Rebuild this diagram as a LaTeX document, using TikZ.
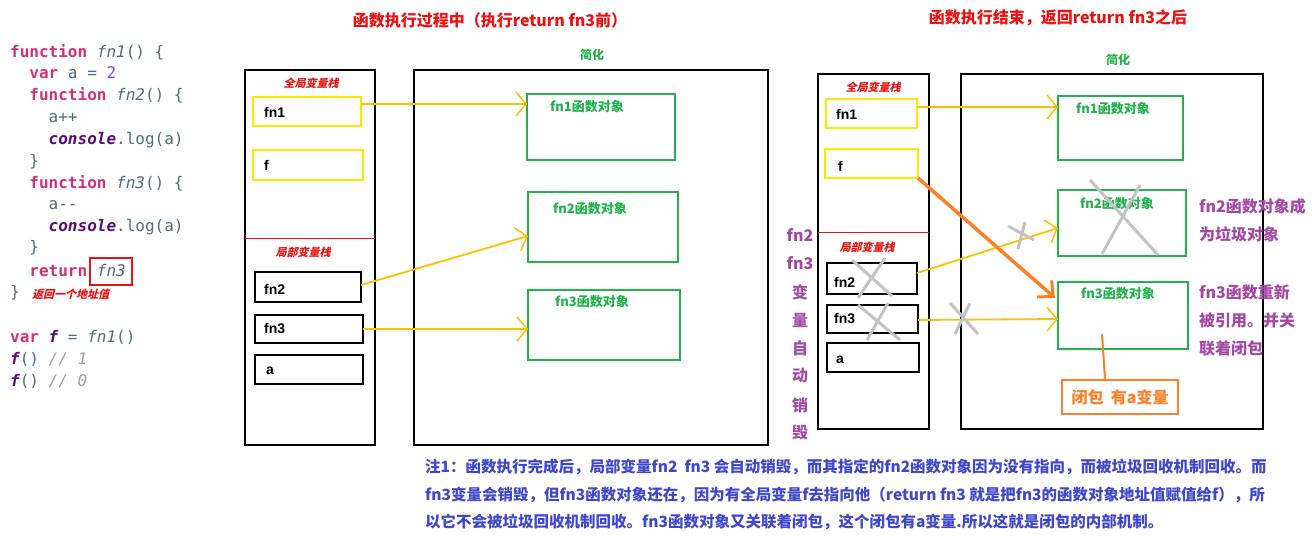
\documentclass[tikz,border=0pt]{standalone}
\usepackage{fontspec}
\setmainfont{Liberation Sans}
\newfontfamily\cjk{Noto Sans CJK SC}
\newfontfamily\cjksl[FakeSlant=0.25]{Noto Sans CJK SC}
\newfontfamily\code{DejaVu Sans Mono}
\usetikzlibrary{arrows.meta}
\definecolor{kw}{HTML}{D0307A}
\definecolor{fnc}{HTML}{4E6E7E}
\definecolor{con}{HTML}{5A0A7A}
\definecolor{num}{HTML}{7A50C8}
\definecolor{cmt}{HTML}{A0A0A0}
\definecolor{ttl}{HTML}{EE1111}
\definecolor{grn}{HTML}{22B14C}
\definecolor{yel}{HTML}{FFE800}
\definecolor{arr}{HTML}{FFC000}
\definecolor{org}{HTML}{FF7F27}
\definecolor{pur}{HTML}{A349A4}
\definecolor{blu}{HTML}{3F48CC}
\definecolor{gry}{HTML}{C3C3C3}
\tikzset{
 cl/.style={anchor=west,inner sep=0,font=\code\fontsize{16}{18}\selectfont},
 stk/.style={draw=black,line width=2.5pt},
 ybox/.style={draw=yel,line width=2.5pt},
 bbox/.style={draw=black,line width=2.5pt},
 gbox/.style={draw=grn,line width=2.5pt},
 lbl/.style={anchor=west,inner sep=0,font=\bfseries\fontsize{14}{16}\selectfont},
 olbl/.style={anchor=north west,inner sep=0,text=grn,font=\cjk\bfseries\fontsize{13}{15}\selectfont},
 rit/.style={text=ttl,inner sep=0,font=\cjksl\bfseries\fontsize{11}{13}\selectfont},
 ttlt/.style={text=ttl,inner sep=0,font=\cjk\bfseries\fontsize{16}{18}\selectfont},
 ya/.style={draw=arr,line width=1.8pt,-{Straight Barb[length=10pt,width=24pt,line width=1.5pt]}},
 gx/.style={draw=gry,line width=3pt},
 purt/.style={text=pur,inner sep=0,font=\cjk\bfseries\fontsize{16}{18}\selectfont},
 note/.style={anchor=west,inner sep=0,text=blu,font=\cjk\bfseries\fontsize{15.5}{17}\selectfont}
}
\begin{document}
\begin{tikzpicture}[x=1pt,y=-1pt]
\useasboundingbox (0,0) rectangle (1312,540);
% code
\node[cl] (c1) at (10,52) {\textcolor{kw}{\bfseries function} \textcolor{fnc}{\itshape fn1}\textcolor{fnc}{() \{}};
\node[cl] (c2) at (10,73) {\phantom{xx}\textcolor{kw}{\bfseries var} \textcolor{fnc}{a = }\textcolor{num}{2}};
\node[cl] (c3) at (10,95) {\phantom{xx}\textcolor{kw}{\bfseries function} \textcolor{fnc}{\itshape fn2}\textcolor{fnc}{() \{}};
\node[cl] (c4) at (10,118) {\phantom{xxxx}\textcolor{fnc}{a++}};
\node[cl] (c5) at (10,140) {\phantom{xxxx}\textcolor{con}{\bfseries\itshape console}\textcolor{fnc}{.log(a)}};
\node[cl] (c6) at (10,162) {\phantom{xx}\textcolor{fnc}{\}}};
\node[cl] (c7) at (10,183) {\phantom{xx}\textcolor{kw}{\bfseries function} \textcolor{fnc}{\itshape fn3}\textcolor{fnc}{() \{}};
\node[cl] (c8) at (10,205) {\phantom{xxxx}\textcolor{fnc}{a-{}-}};
\node[cl] (c9) at (10,227) {\phantom{xxxx}\textcolor{con}{\bfseries\itshape console}\textcolor{fnc}{.log(a)}};
\node[cl] (c10) at (10,248) {\phantom{xx}\textcolor{fnc}{\}}};
\node[cl] (c11) at (10,271) {\phantom{xx}\textcolor{kw}{\bfseries return} \textcolor{fnc}{\itshape fn3}};
\node[cl] (c12) at (10,293) {\textcolor{fnc}{\}}};
\node[rit,anchor=west] (ret) at (32,294) {返回一个地址值};
\draw[draw=ttl,line width=2pt] (90,258) rectangle (132,285);
\node[cl] (c13) at (10,337) {\textcolor{kw}{\bfseries var} \textcolor{con}{\bfseries\itshape f}\textcolor{fnc}{\ =\ }\textcolor{fnc}{\itshape fn1}\textcolor{fnc}{()}};
\node[cl] (c14) at (10,359) {\textcolor{con}{\bfseries\itshape f}\textcolor{fnc}{()} \textcolor{cmt}{\itshape // 1}};
\node[cl] (c15) at (10,381) {\textcolor{con}{\bfseries\itshape f}\textcolor{fnc}{()} \textcolor{cmt}{\itshape // 0}};
% titles
\node[ttlt] (t1) at (490,20) {函数执行过程中（执行return fn3前）};
\node[ttlt] (t2) at (1058,18) {函数执行结束，返回return fn3之后};
% ---------- left diagram
\draw[stk] (245,70) rectangle (375,445);
\draw[stk] (414,70) rectangle (768,445);
\node[text=grn,inner sep=0,font=\cjk\bfseries\fontsize{12}{14}\selectfont] (s1) at (592,55) {简化};
\node[rit] (g1) at (311,83) {全局变量栈};
\draw[ybox] (253,97) rectangle (361,126); \node[lbl] (n1) at (264,112) {fn1};
\draw[ybox] (253,150) rectangle (363,180); \node[lbl] (nf) at (264,165) {f};
\draw[ttl,line width=1pt] (245,239) -- (375,239);
\node[rit] (l1) at (303,252) {局部变量栈};
\draw[bbox] (255,272) rectangle (361,302); \node[lbl] (n2) at (264,289) {fn2};
\draw[bbox] (255,315) rectangle (363,343); \node[lbl] (n3) at (264,329) {fn3};
\draw[bbox] (255,355) rectangle (363,384); \node[lbl] (na) at (266,371) {a};
\draw[gbox] (527,94) rectangle (675,160); \node[olbl] (o1) at (550,100) {fn1函数对象};
\draw[gbox] (528,192) rectangle (678,262); \node[olbl] (o2) at (553,202) {fn2函数对象};
\draw[gbox] (528,290) rectangle (680,360); \node[olbl] (o3) at (555,295) {fn3函数对象};
\coordinate (a1s) at (361,104); \coordinate (a1e) at (527,104);
\coordinate (a2s) at (361,285); \coordinate (a2e) at (528,236);
\coordinate (a3s) at (363,329); \coordinate (a3e) at (528,329);
\draw[ya] (a1s) -- (a1e);
\draw[ya] (a2s) -- (a2e);
\draw[ya] (a3s) -- (a3e);
% ---------- right diagram
\draw[stk] (818,74) rectangle (929,429);
\draw[stk] (961,74) rectangle (1263,429);
\node[text=grn,inner sep=0,font=\cjk\bfseries\fontsize{12}{14}\selectfont] (s2) at (1118,60) {简化};
\node[rit] (g2) at (873,87) {全局变量栈};
\draw[ybox] (826,99) rectangle (917,128); \node[lbl] (m1) at (836,114) {fn1};
\draw[ybox] (825,149) rectangle (918,178); \node[lbl] (mf) at (838,166) {f};
\draw[ttl,line width=1pt] (818,233) -- (929,233);
\node[rit] (l2) at (867,247) {局部变量栈};
\draw[bbox] (827,263) rectangle (917,294); \node[lbl] (m2) at (834,282) {fn2};
\draw[bbox] (827,305) rectangle (918,333); \node[lbl] (m3) at (834,319) {fn3};
\draw[bbox] (827,343) rectangle (919,372); \node[lbl] (ma) at (836,360) {a};
\draw[gbox] (1058,96) rectangle (1183,160); \node[olbl] (p1) at (1076,102) {fn1函数对象};
\draw[gbox] (1058,190) rectangle (1186,256); \node[olbl] (p2) at (1080,197) {fn2函数对象};
\draw[gbox] (1058,282) rectangle (1188,349); \node[olbl] (p3) at (1081,287) {fn3函数对象};
\node[draw=org,line width=2.5pt,text=org,inner sep=4pt,minimum width=116pt,minimum height=34pt,font=\cjk\bfseries\fontsize{16}{18}\selectfont] (clo) at (1120,397) {闭包\ \ 有a变量};
\coordinate (ol) at (1102,334);
\draw[org,line width=2pt] (ol) -- (clo.north -| 1105,0);
\coordinate (b1s) at (917,107); \coordinate (b1e) at (1058,107);
\coordinate (b2s) at (917,273); \coordinate (b2e) at (1058,228);
\coordinate (b3s) at (918,320); \coordinate (b3e) at (1058,319);
\draw[ya,line width=2.5pt] (b1s) -- (b1e);
\draw[ya] (b2s) -- (b2e);
\draw[ya] (b3s) -- (b3e);
\coordinate (fs) at (918,178); \coordinate (fe) at (1055,298);
\draw[org,line width=3.5pt,-{Straight Barb[length=12pt,width=22pt,line width=3pt]}] (fs) -- (fe);
% gray crosses
\draw[gx] (1090,180) -- (1158,255) (1140,185) -- (1102,254);
\draw[gx] (1008,226) -- (1034,240) (1025,222) -- (1018,249);
\draw[gx] (852,260) -- (892,296) (885,258) -- (858,298);
\draw[gx] (858,305) -- (900,340) (888,303) -- (867,340);
\draw[gx] (950,303) -- (978,334) (970,303) -- (955,334);
% purple texts
\foreach \t/\yy [count=\i] in {fn2/235,fn3/263,变/292,量/320,自/348,动/376,销/405,毁/432}
  \node[purt] (v\i) at (800,\yy) {\t};
\node[purt,anchor=west] (r1) at (1199,206) {fn2函数对象成};
\node[purt,anchor=west] (r2) at (1199,234) {为垃圾对象};
\node[purt,anchor=west] (r3) at (1199,292) {fn3函数重新};
\node[purt,anchor=west] (r4) at (1199,320) {被引用。并关};
\node[purt,anchor=west] (r5) at (1199,348) {联着闭包};
% note
\node[note] (z1) at (425,467) {注1：函数执行完成后，局部变量fn2\ \ fn3 会自动销毁，而其指定的fn2函数对象因为没有指向，而被垃圾回收机制回收。而};
\node[note] (z2) at (425,495) {fn3变量会销毁，但fn3函数对象还在，因为有全局变量f去指向他（return fn3 就是把fn3的函数对象地址值赋值给f），所};
\node[note] (z3) at (425,522) {以它不会被垃圾回收机制回收。fn3函数对象又关联着闭包，这个闭包有a变量.所以这就是闭包的内部机制。};
\end{tikzpicture}
\end{document}
